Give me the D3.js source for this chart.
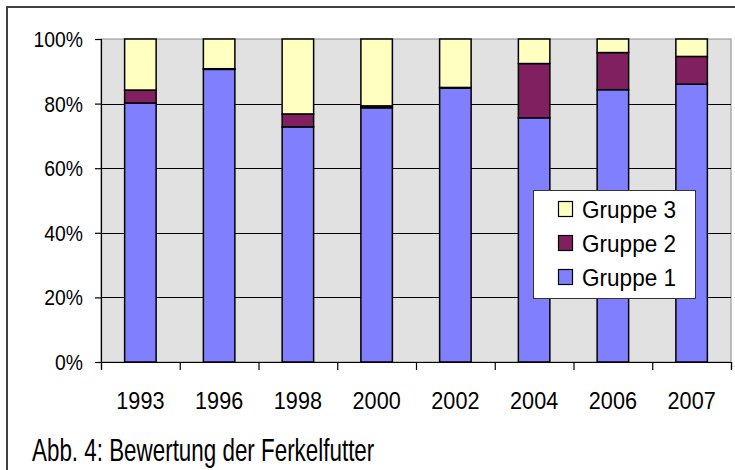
<!DOCTYPE html>
<html>
<head>
<meta charset="utf-8">
<script src="https://cdn.jsdelivr.net/npm/d3@7"></script>
<style>
  body { margin: 0; background: #fff; }
  text { font-family: "Liberation Sans", Arial, sans-serif; fill: #000; }
</style>
</head>
<body>
<svg id="chart" width="735" height="470"></svg>
<script>
// values in percent
let years = ["1993", "1996", "1998", "2000", "2002", "2004", "2006", "2007"];
let gruppe1 = [80.2, 90.6, 72.8, 78.7, 84.8, 75.6, 84.3, 86.0];
let gruppe2 = [4.0, 0.2, 4.0, 0.6, 0.2, 16.8, 11.5, 8.6];
let gruppe3 = [15.8, 9.2, 23.2, 20.7, 15.0, 7.6, 4.2, 5.4];
let seriesNames = ["Gruppe 1", "Gruppe 2", "Gruppe 3"];
let colors = {"Gruppe 1": "#8080ff", "Gruppe 2": "#802060", "Gruppe 3": "#ffffc0"};
let yTicks = [0, 20, 40, 60, 80, 100];

let width = 735;
let height = 470;
let plot = {left: 101, top: 39, right: 731, bottom: 362};

let svg = d3.select("#chart");

// condensed text, like the original picture
function label(g, txt, x, y, size, sx, anchor) {
    return g.append("text")
        .attr("transform", "translate(" + x + "," + y + ") scale(" + sx + ",1)")
        .attr("text-anchor", anchor)
        .style("font-size", size + "px")
        .text(txt);
}

// outer frame
svg.append("rect")
    .attr("x", 7).attr("y", 7)
    .attr("width", width).attr("height", height)
    .attr("fill", "none")
    .attr("stroke", "#404040")
    .attr("stroke-width", 2);

let x = d3.scaleBand()
    .domain(years)
    .range([plot.left, plot.right])
    .paddingInner(0.6)
    .paddingOuter(0.3);

let xEdges = d3.scaleLinear()
    .domain([0, years.length])
    .range([plot.left, plot.right]);

let y = d3.scaleLinear()
    .domain([0, 100])
    .range([plot.bottom, plot.top]);

// plot background
svg.append("rect")
    .attr("x", plot.left).attr("y", plot.top)
    .attr("width", plot.right - plot.left)
    .attr("height", plot.bottom - plot.top)
    .attr("fill", "#e1e1e1")
    .attr("stroke", "#8c8c8c")
    .attr("stroke-width", 1);

// gridlines
svg.append("g")
    .selectAll("line")
    .data(yTicks.filter(d => d > 0 && d < 100))
    .enter().append("line")
    .attr("x1", plot.left).attr("x2", plot.right)
    .attr("y1", d => Math.round(y(d)) + 0.5)
    .attr("y2", d => Math.round(y(d)) + 0.5)
    .attr("stroke", "#000")
    .attr("stroke-width", 1);

// stacked bars
let table = years.map(function (yr, i) {
    return {year: yr, "Gruppe 1": gruppe1[i], "Gruppe 2": gruppe2[i], "Gruppe 3": gruppe3[i]};
});
let stack = d3.stack().keys(seriesNames)(table);

svg.append("g")
    .selectAll("g")
    .data(stack)
    .enter().append("g")
    .attr("fill", d => colors[d.key])
    .selectAll("rect")
    .data(d => d)
    .enter().append("rect")
    .attr("x", d => x(d.data.year))
    .attr("y", d => y(d[1]))
    .attr("width", x.bandwidth())
    .attr("height", d => y(d[0]) - y(d[1]))
    .attr("stroke", "#000")
    .attr("stroke-width", 1.5);

// y axis
let yAxis = svg.append("g")
    .attr("transform", "translate(" + plot.left + ",0)")
    .call(d3.axisLeft(y).tickValues(yTicks).tickSize(6).tickFormat(""));
yAxis.selectAll("path, line").attr("stroke", "#000").attr("stroke-width", 1.2);

let yLab = svg.append("g");
yTicks.forEach(function (t) {
    label(yLab, t + "%", 83, y(t) + 8, 22.5, 0.86, "end");
});

// x axis
let xAxis = svg.append("g")
    .attr("transform", "translate(0," + plot.bottom + ")")
    .call(d3.axisBottom(xEdges).tickValues(d3.range(years.length + 1)).tickSize(8).tickFormat(""));
xAxis.selectAll("path, line").attr("stroke", "#000").attr("stroke-width", 1.2);

let xLab = svg.append("g");
years.forEach(function (yr) {
    label(xLab, yr, x(yr) + x.bandwidth() / 2, 409, 24, 0.9, "middle");
});

// legend
let legend = svg.append("g");
legend.append("rect")
    .attr("x", 533.5).attr("y", 190.5)
    .attr("width", 162).attr("height", 108)
    .attr("fill", "#fff")
    .attr("stroke", "#333")
    .attr("stroke-width", 1);

let legendOrder = ["Gruppe 3", "Gruppe 2", "Gruppe 1"];
let legendY = d3.scalePoint().domain(legendOrder).range([209, 277]);
legendOrder.forEach(function (name) {
    let cy = legendY(name);
    legend.append("rect")
        .attr("x", 558.5).attr("y", cy - 7.5)
        .attr("width", 14).attr("height", 15)
        .attr("fill", colors[name])
        .attr("stroke", "#000")
        .attr("stroke-width", 1.2);
    label(legend, name, 582, cy + 8.5, 24, 0.94, "start");
});

// caption
label(svg, "Abb. 4: Bewertung der Ferkelfutter", 32, 461, 32, 0.7, "start");
</script>
</body>
</html>
